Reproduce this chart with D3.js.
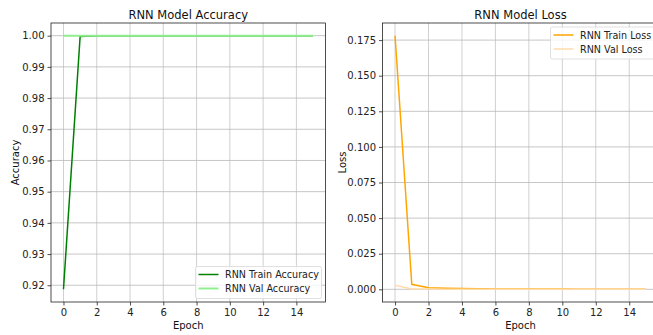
<!DOCTYPE html>
<html>
<head>
<meta charset="utf-8">
<script src="https://cdn.jsdelivr.net/npm/d3@7"></script>
<style>
  body { margin: 0; background: #fff; }
  svg { display: block; font-family: "DejaVu Sans", sans-serif; }
</style>
</head>
<body>
<script>
const epochs = d3.range(0, 16);

const trainAcc = [0.9187, 0.9997, 1.0, 1.0, 1.0, 1.0, 1.0, 1.0, 1.0, 1.0, 1.0, 1.0, 1.0, 1.0, 1.0, 1.0];
const valAcc = [1.0, 1.0, 1.0, 1.0, 1.0, 1.0, 1.0, 1.0, 1.0, 1.0, 1.0, 1.0, 1.0, 1.0, 1.0, 1.0];

const trainLoss = [0.1781, 0.0035, 0.0011, 0.0007, 0.0005, 0.0004, 0.0003, 0.0003, 0.0002, 0.0002, 0.0002, 0.0001, 0.0001, 0.0001, 0.0001, 0.0001];
const valLoss = [0.0028, 0.0003, 0.0002, 0.0001, 0.0001, 0.0001, 0.0001, 0.0001, 0.0001, 0.0000, 0.0000, 0.0000, 0.0000, 0.0000, 0.0000, 0.0000];

const xTicks = [0, 2, 4, 6, 8, 10, 12, 14];
const accTicks = [0.92, 0.93, 0.94, 0.95, 0.96, 0.97, 0.98, 0.99, 1.00];
const lossTicks = [0.000, 0.025, 0.050, 0.075, 0.100, 0.125, 0.150, 0.175];

const W = 653, H = 335;
const svg = d3.select("body").append("svg").attr("width", W).attr("height", H);

// pad a domain like matplotlib's 5% margins
function padded(lo, hi) {
  const m = (hi - lo) * 0.05;
  return [lo - m, hi + m];
}

function panel(opts) {
  const g = svg.append("g");
  const x = d3.scaleLinear().domain(padded(0, 15)).range([opts.left, opts.right]);
  const y = d3.scaleLinear().domain(padded(opts.yMin, opts.yMax)).range([opts.bottom, opts.top]);

  // grid
  g.append("g").selectAll("line").data(xTicks).join("line")
    .attr("x1", d => x(d)).attr("x2", d => x(d))
    .attr("y1", opts.top).attr("y2", opts.bottom)
    .attr("stroke", "#d0d0d0").attr("stroke-width", 1);
  g.append("g").selectAll("line").data(opts.yTicks).join("line")
    .attr("x1", opts.left).attr("x2", opts.right)
    .attr("y1", d => y(d)).attr("y2", d => y(d))
    .attr("stroke", "#b8b8b8").attr("stroke-width", 0.8);

  // axes
  const xAxis = g.append("g").attr("transform", `translate(0,${opts.bottom})`)
    .call(d3.axisBottom(x).tickValues(xTicks).tickSize(3.5).tickPadding(3).tickFormat(d3.format("d")));
  const yAxis = g.append("g").attr("transform", `translate(${opts.left},0)`)
    .call(d3.axisLeft(y).tickValues(opts.yTicks).tickSize(3.5).tickPadding(3).tickFormat(d3.format(opts.fmt)));
  [xAxis, yAxis].forEach(a => {
    a.select(".domain").remove();
    a.selectAll("text").attr("font-size", 10).attr("fill", "#222").attr("font-family", "DejaVu Sans, sans-serif");
    a.selectAll("line").attr("stroke", "#222").attr("stroke-width", 0.8);
  });

  g.append("rect")
    .attr("x", opts.left).attr("y", opts.top)
    .attr("width", opts.right - opts.left).attr("height", opts.bottom - opts.top)
    .attr("fill", "none").attr("stroke", "#222").attr("stroke-width", 0.8);

  // lines, drawn in series order (later ones on top)
  const clipId = "clip" + opts.id;
  g.append("clipPath").attr("id", clipId).append("rect")
    .attr("x", opts.left).attr("y", opts.top)
    .attr("width", opts.right - opts.left).attr("height", opts.bottom - opts.top);
  const line = d3.line().x((d, i) => x(epochs[i])).y(d => y(d));
  opts.series.forEach(s => {
    g.append("path").datum(s.values)
      .attr("clip-path", `url(#${clipId})`)
      .attr("d", line).attr("fill", "none")
      .attr("stroke", s.color).attr("stroke-width", s.width);
  });

  // titles
  const cx = (opts.left + opts.right) / 2;
  g.append("text").attr("x", cx).attr("y", 18.5).attr("text-anchor", "middle")
    .attr("font-size", 11.5).attr("fill", "#111").text(opts.title);
  g.append("text").attr("x", cx).attr("y", 329).attr("text-anchor", "middle")
    .attr("font-size", 10).attr("fill", "#111").text("Epoch");
  g.append("text")
    .attr("transform", `translate(${opts.ylabelX},${(opts.top + opts.bottom) / 2}) rotate(-90)`)
    .attr("text-anchor", "middle").attr("font-size", 10).attr("fill", "#111").text(opts.ylabel);

  // legend
  const lg = g.append("g").attr("transform", `translate(${opts.legend[0]},${opts.legend[1]})`);
  lg.append("rect").attr("width", opts.legendW).attr("height", 32).attr("rx", 2)
    .attr("fill", "rgba(255,255,255,0.8)").attr("stroke", "#d8d8d8").attr("stroke-width", 0.8);
  opts.series.forEach((s, i) => {
    const ly = 8 + i * 14;
    lg.append("line").attr("x1", 3).attr("x2", 23).attr("y1", ly).attr("y2", ly)
      .attr("stroke", s.color).attr("stroke-width", s.width);
    lg.append("text").attr("x", 29.5).attr("y", ly + 3.5).attr("font-size", 9.6)
      .attr("fill", "#222").text(s.name);
  });
}

panel({
  id: "acc", left: 51, right: 325.5, top: 23, bottom: 302,
  yMin: 0.9187, yMax: 1.0, yTicks: accTicks, fmt: ".2f",
  title: "RNN Model Accuracy", ylabel: "Accuracy", ylabelX: 18.5,
  legend: [195.5, 266.5], legendW: 126,
  series: [
    { name: "RNN Train Accuracy", values: trainAcc, color: "#008000", width: 1.5 },
    { name: "RNN Val Accuracy", values: valAcc, color: "#90ee90", width: 2 }
  ]
});

panel({
  id: "loss", left: 382.5, right: 658.5, top: 23, bottom: 302,
  yMin: 0.0, yMax: 0.1781, yTicks: lossTicks, fmt: ".3f",
  title: "RNN Model Loss", ylabel: "Loss", ylabelX: 346,
  legend: [550.5, 27], legendW: 106,
  series: [
    { name: "RNN Train Loss", values: trainLoss, color: "#ffa500", width: 1.5 },
    { name: "RNN Val Loss", values: valLoss, color: "#ffdcaa", width: 1.5 }
  ]
});
</script>
</body>
</html>
